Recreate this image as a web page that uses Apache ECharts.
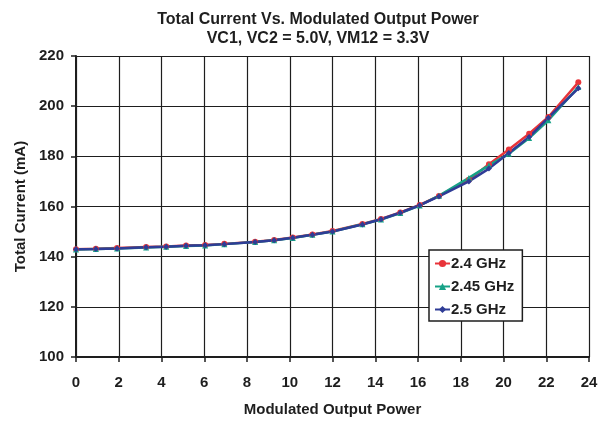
<!DOCTYPE html>
<html>
<head>
<meta charset="utf-8">
<script src="https://cdn.jsdelivr.net/npm/echarts@6/dist/echarts.min.js"></script>
<style>
html, body { margin: 0; padding: 0; background: #fff; }
#chart { width: 605px; height: 422px; }
</style>
</head>
<body>
<div id="chart"></div>
<script>
// power points (x) and current readings per frequency
var power = [0, 0.93, 1.92, 3.28, 4.22, 5.15, 6.04, 6.94, 8.38, 9.27, 10.14, 11.06, 12.0, 13.4, 14.27, 15.17, 16.08, 16.98, 18.38, 19.32, 20.25, 21.2, 22.1, 23.5];
var cur24 = [143, 143.2, 143.5, 143.9, 144.1, 144.5, 144.7, 145.1, 145.9, 146.6, 147.6, 148.8, 150.2, 153, 155, 157.6, 160.6, 164.2, 170.7, 176.8, 182.7, 189, 195.7, 209.5];
var cur245 = [142.9, 143.1, 143.3, 143.7, 144, 144.3, 144.5, 145, 145.8, 146.5, 147.4, 148.7, 150, 152.9, 154.8, 157.4, 160.4, 164.3, 171.4, 176.4, 181, 187.3, 194.4, 207.6];
var cur25 = [143, 143.1, 143.3, 143.8, 144, 144.4, 144.6, 145, 145.8, 146.5, 147.5, 148.7, 150, 152.8, 154.9, 157.5, 160.5, 164, 170, 175.1, 181.3, 187.7, 195.4, 207.1];
var xTicks = [0, 24, 2];
var yTicks = [100, 220, 20];

function pairs(xs, ys) {
  var out = [];
  for (var i = 0; i < xs.length; i++) out.push([xs[i], ys[i]]);
  return out;
}

var font = "Liberation Sans, Arial, sans-serif";
var ink = "#1e1e1e";
var chart = echarts.init(document.getElementById("chart"));

function line(name, data, color, symbol) {
  return {
    name: name,
    type: "line",
    data: data,
    symbol: symbol,
    symbolSize: 6,
    itemStyle: { color: color },
    lineStyle: { color: color, width: 2.5 },
    z: 3
  };
}

chart.setOption({
  animation: false,
  title: {
    text: "Total Current Vs. Modulated Output Power\nVC1, VC2 = 5.0V, VM12 = 3.3V",
    left: 313,
    textAlign: "center",
    top: 5,
    textStyle: { fontFamily: font, fontSize: 16, fontWeight: "bold", color: ink, lineHeight: 19 }
  },
  legend: {
    orient: "vertical",
    left: 429,
    top: 250,
    backgroundColor: "#fff",
    borderColor: ink,
    borderWidth: 1.5,
    borderRadius: 0,
    padding: [6, 8, 4, 5],
    itemGap: 8,
    itemWidth: 15,
    itemHeight: 9,
    textStyle: { fontFamily: font, fontSize: 15, fontWeight: "bold", color: ink, padding: [0, 0, 0, -4] },
    data: ["2.4 GHz", "2.45 GHz", "2.5 GHz"]
  },
  grid: { left: 76, right: 16, top: 56, bottom: 65 },
  xAxis: {
    type: "value",
    min: xTicks[0],
    max: xTicks[1],
    interval: xTicks[2],
    name: "Modulated Output Power",
    nameLocation: "middle",
    nameGap: 45,
    nameTextStyle: { fontFamily: font, fontSize: 15, fontWeight: "bold", color: ink },
    axisLine: { lineStyle: { color: ink, width: 2 } },
    axisTick: { show: true, length: 5, lineStyle: { color: ink, width: 1.5 } },
    axisLabel: { fontFamily: font, fontSize: 15, fontWeight: "bold", color: ink, margin: 18 },
    splitLine: { show: true, lineStyle: { color: ink, width: 1.2 } }
  },
  yAxis: {
    type: "value",
    min: yTicks[0],
    max: yTicks[1],
    interval: yTicks[2],
    name: "Total Current (mA)",
    nameLocation: "middle",
    nameGap: 47,
    nameTextStyle: { fontFamily: font, fontSize: 15, fontWeight: "bold", color: ink },
    axisLine: { show: true, lineStyle: { color: ink, width: 2 } },
    axisTick: { show: true, length: 5, lineStyle: { color: ink, width: 1.5 } },
    axisLabel: { fontFamily: font, fontSize: 15, fontWeight: "bold", color: ink, margin: 12 },
    splitLine: { show: true, lineStyle: { color: ink, width: 1.2 } }
  },
  series: [
    line("2.4 GHz", pairs(power, cur24), "#e8343a", "circle"),
    line("2.45 GHz", pairs(power, cur245), "#17a287", "triangle"),
    line("2.5 GHz", pairs(power, cur25), "#2f3c96", "diamond")
  ]
});
</script>
</body>
</html>
